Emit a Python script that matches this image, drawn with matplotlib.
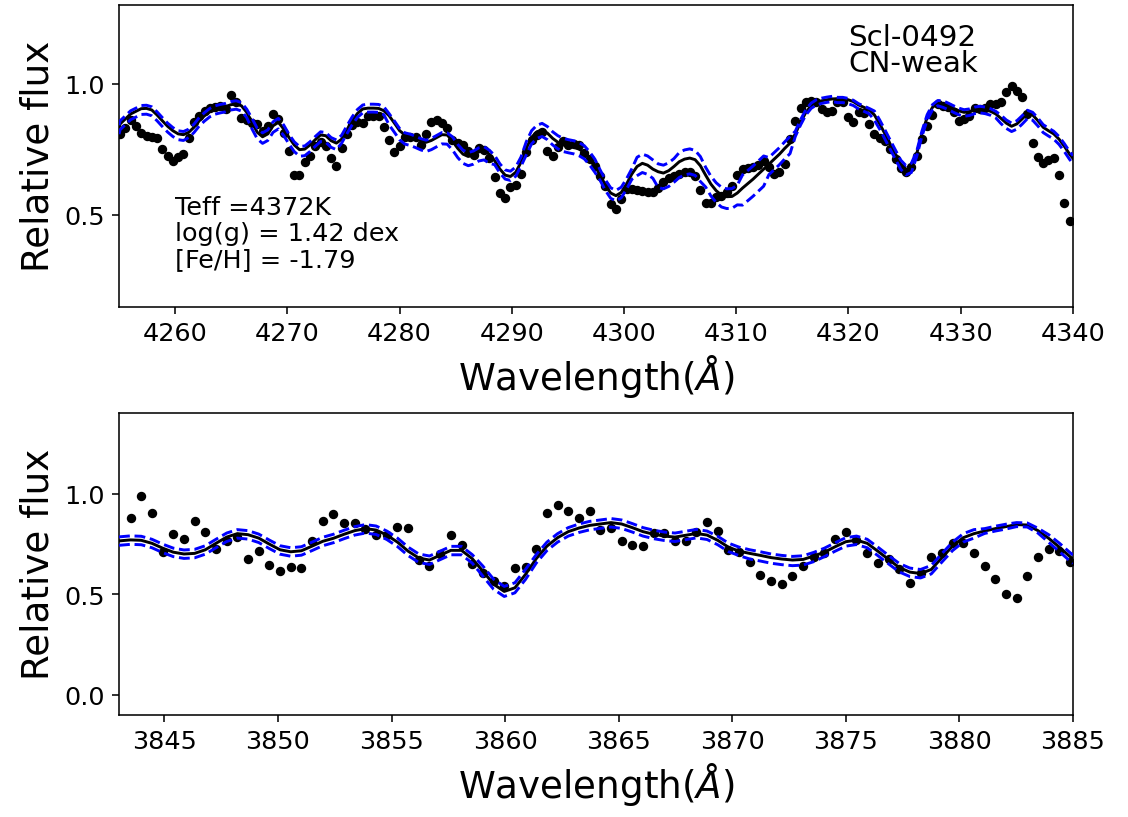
import matplotlib
matplotlib.use("Agg")
import matplotlib.pyplot as plt

# ---- top panel: 4255-4340 A ----
wave_top = [
    4255.10, 4255.57, 4256.04, 4256.51, 4256.98, 4257.45, 4257.92, 4258.39, 4258.86, 4259.33,
    4259.80, 4260.27, 4260.74, 4261.21, 4261.68, 4262.15, 4262.62, 4263.09, 4263.56, 4264.03,
    4264.50, 4264.97, 4265.44, 4265.91, 4266.38, 4266.85, 4267.32, 4267.79, 4268.26, 4268.73,
    4269.20, 4269.67, 4270.14, 4270.61, 4271.08, 4271.55, 4272.02, 4272.49, 4272.96, 4273.43,
    4273.90, 4274.37, 4274.84, 4275.31, 4275.78, 4276.25, 4276.72, 4277.19, 4277.66, 4278.13,
    4278.60, 4279.07, 4279.54, 4280.01, 4280.48, 4280.95, 4281.42, 4281.89, 4282.36, 4282.83,
    4283.30, 4283.77, 4284.24, 4284.71, 4285.18, 4285.65, 4286.12, 4286.59, 4287.06, 4287.53,
    4288.00, 4288.47, 4288.94, 4289.41, 4289.88, 4290.35, 4290.82, 4291.29, 4291.76, 4292.23,
    4292.70, 4293.17, 4293.64, 4294.11, 4294.58, 4295.05, 4295.52, 4295.99, 4296.46, 4296.93,
    4297.40, 4297.87, 4298.34, 4298.81, 4299.28, 4299.75, 4300.22, 4300.69, 4301.16, 4301.63,
    4302.10, 4302.57, 4303.04, 4303.51, 4303.98, 4304.45, 4304.92, 4305.39, 4305.86, 4306.33,
    4306.80, 4307.27, 4307.74, 4308.21, 4308.68, 4309.15, 4309.62, 4310.09, 4310.56, 4311.03,
    4311.50, 4311.97, 4312.44, 4312.91, 4313.38, 4313.85, 4314.32, 4314.79, 4315.26, 4315.73,
    4316.20, 4316.67, 4317.14, 4317.61, 4318.08, 4318.55, 4319.02, 4319.49, 4319.96, 4320.43,
    4320.90, 4321.37, 4321.84, 4322.31, 4322.78, 4323.25, 4323.72, 4324.19, 4324.66, 4325.13,
    4325.60, 4326.07, 4326.54, 4327.01, 4327.48, 4327.95, 4328.42, 4328.89, 4329.36, 4329.83,
    4330.30, 4330.77, 4331.24, 4331.71, 4332.18, 4332.65, 4333.12, 4333.59, 4334.06, 4334.53,
    4335.00, 4335.47, 4335.94, 4336.41, 4336.88, 4337.35, 4337.82, 4338.29, 4338.76, 4339.23,
    4339.70]

obs_top = [
    0.809, 0.830, 0.862, 0.840, 0.812, 0.802, 0.798, 0.794, 0.751, 0.726,
    0.705, 0.722, 0.734, 0.793, 0.855, 0.876, 0.895, 0.906, 0.910, 0.916,
    0.903, 0.957, 0.931, 0.869, 0.860, 0.850, 0.847, 0.821, 0.838, 0.885,
    0.866, 0.812, 0.744, 0.652, 0.652, 0.703, 0.724, 0.762, 0.779, 0.762,
    0.716, 0.688, 0.756, 0.809, 0.843, 0.855, 0.850, 0.878, 0.878, 0.878,
    0.834, 0.787, 0.741, 0.762, 0.796, 0.799, 0.799, 0.767, 0.809, 0.855,
    0.862, 0.849, 0.830, 0.786, 0.775, 0.767, 0.743, 0.730, 0.756, 0.749,
    0.716, 0.644, 0.584, 0.564, 0.606, 0.614, 0.656, 0.739, 0.786, 0.805,
    0.815, 0.745, 0.726, 0.758, 0.783, 0.767, 0.770, 0.767, 0.735, 0.713,
    0.688, 0.650, 0.612, 0.542, 0.523, 0.561, 0.599, 0.599, 0.597, 0.593,
    0.589, 0.589, 0.605, 0.627, 0.640, 0.648, 0.656, 0.663, 0.663, 0.650,
    0.597, 0.546, 0.546, 0.568, 0.574, 0.587, 0.612, 0.652, 0.675, 0.678,
    0.682, 0.691, 0.707, 0.682, 0.656, 0.663, 0.694, 0.789, 0.859, 0.906,
    0.929, 0.933, 0.929, 0.903, 0.891, 0.895, 0.931, 0.929, 0.874, 0.855,
    0.891, 0.890, 0.848, 0.809, 0.793, 0.783, 0.751, 0.713, 0.678, 0.665,
    0.682, 0.726, 0.789, 0.840, 0.880, 0.923, 0.916, 0.910, 0.893, 0.859,
    0.867, 0.878, 0.906, 0.903, 0.906, 0.923, 0.923, 0.931, 0.967, 0.992,
    0.973, 0.951, 0.885, 0.774, 0.720, 0.698, 0.711, 0.717, 0.652, 0.546,
    0.478]

# synthetic spectra: same grid plus the two axis ends
mwave_top = [4255.0] + wave_top + [4340.0]

model_top = [
    0.830,
    0.847, 0.866, 0.885, 0.895, 0.905, 0.906, 0.900, 0.881, 0.859, 0.838,
    0.821, 0.809, 0.806, 0.815, 0.834, 0.859, 0.878, 0.894, 0.904, 0.909,
    0.913, 0.920, 0.923, 0.916, 0.891, 0.853, 0.815, 0.798, 0.809, 0.840,
    0.853, 0.828, 0.796, 0.767, 0.749, 0.751, 0.767, 0.787, 0.805, 0.802,
    0.783, 0.774, 0.789, 0.825, 0.859, 0.887, 0.904, 0.907, 0.907, 0.906,
    0.897, 0.878, 0.850, 0.821, 0.805, 0.800, 0.792, 0.783, 0.777, 0.784,
    0.795, 0.806, 0.805, 0.783, 0.754, 0.732, 0.723, 0.729, 0.741, 0.745,
    0.732, 0.707, 0.675, 0.652, 0.647, 0.663, 0.701, 0.754, 0.796, 0.817,
    0.824, 0.812, 0.792, 0.777, 0.767, 0.762, 0.758, 0.751, 0.739, 0.716,
    0.688, 0.652, 0.614, 0.584, 0.574, 0.586, 0.618, 0.656, 0.685, 0.697,
    0.690, 0.675, 0.665, 0.660, 0.669, 0.685, 0.703, 0.713, 0.717, 0.711,
    0.688, 0.652, 0.618, 0.593, 0.576, 0.570, 0.571, 0.584, 0.603, 0.620,
    0.637, 0.656, 0.675, 0.694, 0.713, 0.732, 0.754, 0.774, 0.809, 0.853,
    0.891, 0.916, 0.929, 0.935, 0.939, 0.942, 0.943, 0.943, 0.939, 0.932,
    0.919, 0.910, 0.901, 0.881, 0.847, 0.809, 0.770, 0.732, 0.694, 0.673,
    0.682, 0.732, 0.809, 0.872, 0.910, 0.926, 0.925, 0.916, 0.906, 0.897,
    0.891, 0.894, 0.901, 0.904, 0.901, 0.895, 0.885, 0.868, 0.850, 0.838,
    0.847, 0.866, 0.887, 0.881, 0.859, 0.834, 0.821, 0.809, 0.789, 0.762,
    0.732,
    0.716]

upper_top = [
    0.842,
    0.859, 0.878, 0.897, 0.907, 0.917, 0.918, 0.912, 0.893, 0.871, 0.850,
    0.833, 0.821, 0.818, 0.827, 0.846, 0.871, 0.890, 0.906, 0.916, 0.921,
    0.925, 0.932, 0.935, 0.928, 0.903, 0.868, 0.830, 0.813, 0.824, 0.855,
    0.868, 0.843, 0.808, 0.779, 0.761, 0.763, 0.779, 0.799, 0.817, 0.814,
    0.795, 0.786, 0.804, 0.840, 0.874, 0.902, 0.919, 0.922, 0.922, 0.921,
    0.912, 0.886, 0.858, 0.829, 0.813, 0.808, 0.800, 0.791, 0.785, 0.792,
    0.803, 0.814, 0.813, 0.798, 0.769, 0.747, 0.738, 0.744, 0.756, 0.760,
    0.747, 0.727, 0.695, 0.672, 0.667, 0.683, 0.721, 0.779, 0.821, 0.842,
    0.849, 0.837, 0.817, 0.802, 0.792, 0.787, 0.783, 0.776, 0.764, 0.741,
    0.713, 0.672, 0.634, 0.604, 0.594, 0.606, 0.638, 0.676, 0.720, 0.732,
    0.725, 0.710, 0.695, 0.690, 0.699, 0.715, 0.738, 0.748, 0.752, 0.746,
    0.723, 0.682, 0.648, 0.623, 0.606, 0.600, 0.601, 0.614, 0.653, 0.670,
    0.687, 0.706, 0.725, 0.719, 0.738, 0.757, 0.779, 0.799, 0.819, 0.863,
    0.901, 0.926, 0.939, 0.945, 0.949, 0.952, 0.948, 0.948, 0.944, 0.937,
    0.924, 0.915, 0.906, 0.896, 0.862, 0.824, 0.785, 0.747, 0.709, 0.688,
    0.697, 0.742, 0.819, 0.882, 0.920, 0.936, 0.935, 0.926, 0.916, 0.907,
    0.901, 0.904, 0.911, 0.914, 0.911, 0.905, 0.895, 0.880, 0.862, 0.850,
    0.859, 0.878, 0.899, 0.891, 0.869, 0.844, 0.831, 0.819, 0.799, 0.772,
    0.742,
    0.726]

lower_top = [
    0.808,
    0.825, 0.844, 0.863, 0.873, 0.883, 0.884, 0.878, 0.859, 0.837, 0.816,
    0.799, 0.787, 0.784, 0.795, 0.814, 0.839, 0.858, 0.874, 0.884, 0.889,
    0.893, 0.900, 0.903, 0.896, 0.871, 0.828, 0.790, 0.773, 0.784, 0.815,
    0.828, 0.803, 0.771, 0.742, 0.724, 0.726, 0.742, 0.762, 0.780, 0.777,
    0.758, 0.749, 0.774, 0.810, 0.844, 0.872, 0.889, 0.892, 0.892, 0.891,
    0.882, 0.843, 0.815, 0.786, 0.770, 0.765, 0.757, 0.748, 0.742, 0.749,
    0.760, 0.771, 0.770, 0.748, 0.719, 0.697, 0.688, 0.694, 0.706, 0.710,
    0.697, 0.692, 0.660, 0.637, 0.632, 0.648, 0.686, 0.729, 0.771, 0.792,
    0.799, 0.787, 0.767, 0.752, 0.742, 0.737, 0.733, 0.726, 0.714, 0.691,
    0.663, 0.632, 0.594, 0.564, 0.554, 0.566, 0.598, 0.636, 0.650, 0.662,
    0.655, 0.640, 0.605, 0.600, 0.609, 0.625, 0.643, 0.653, 0.657, 0.651,
    0.628, 0.607, 0.573, 0.548, 0.531, 0.525, 0.526, 0.539, 0.538, 0.555,
    0.572, 0.591, 0.610, 0.654, 0.673, 0.692, 0.714, 0.734, 0.799, 0.843,
    0.881, 0.906, 0.919, 0.925, 0.929, 0.932, 0.928, 0.928, 0.924, 0.917,
    0.904, 0.895, 0.886, 0.861, 0.827, 0.789, 0.750, 0.712, 0.674, 0.653,
    0.662, 0.722, 0.799, 0.862, 0.900, 0.916, 0.910, 0.901, 0.891, 0.882,
    0.876, 0.879, 0.886, 0.889, 0.886, 0.880, 0.870, 0.848, 0.830, 0.818,
    0.827, 0.846, 0.867, 0.861, 0.839, 0.814, 0.801, 0.789, 0.769, 0.742,
    0.712,
    0.696]

# ---- bottom panel: 3843-3885 A ----
wave_bot = [
    3843.51, 3843.98, 3844.45, 3844.92, 3845.39, 3845.86, 3846.33, 3846.80, 3847.27, 3847.74,
    3848.21, 3848.68, 3849.15, 3849.62, 3850.09, 3850.56, 3851.03, 3851.50, 3851.97, 3852.44,
    3852.91, 3853.38, 3853.85, 3854.32, 3854.79, 3855.26, 3855.73, 3856.20, 3856.67, 3857.14,
    3857.61, 3858.08, 3858.55, 3859.02, 3859.49, 3859.96, 3860.43, 3860.90, 3861.37, 3861.84,
    3862.31, 3862.78, 3863.25, 3863.72, 3864.19, 3864.66, 3865.13, 3865.60, 3866.07, 3866.54,
    3867.01, 3867.48, 3867.95, 3868.42, 3868.89, 3869.36, 3869.83, 3870.30, 3870.77, 3871.24,
    3871.71, 3872.18, 3872.65, 3873.12, 3873.59, 3874.06, 3874.53, 3875.00, 3875.47, 3875.94,
    3876.41, 3876.88, 3877.35, 3877.82, 3878.29, 3878.76, 3879.23, 3879.70, 3880.17, 3880.64,
    3881.11, 3881.58, 3882.05, 3882.52, 3882.99, 3883.46, 3883.93, 3884.40, 3884.87]

obs_bot = [
    0.877, 0.987, 0.902, 0.711, 0.798, 0.773, 0.864, 0.807, 0.724, 0.763,
    0.783, 0.673, 0.713, 0.645, 0.615, 0.635, 0.632, 0.763, 0.866, 0.900,
    0.854, 0.854, 0.826, 0.794, 0.794, 0.836, 0.827, 0.672, 0.640, 0.700,
    0.794, 0.746, 0.650, 0.607, 0.565, 0.540, 0.628, 0.635, 0.726, 0.903,
    0.945, 0.912, 0.881, 0.915, 0.821, 0.827, 0.763, 0.746, 0.741, 0.802,
    0.806, 0.766, 0.766, 0.811, 0.859, 0.814, 0.719, 0.710, 0.662, 0.597,
    0.565, 0.550, 0.589, 0.638, 0.685, 0.706, 0.773, 0.811, 0.769, 0.703,
    0.653, 0.673, 0.627, 0.557, 0.607, 0.687, 0.706, 0.754, 0.753, 0.703,
    0.642, 0.575, 0.499, 0.481, 0.592, 0.687, 0.724, 0.714, 0.662]

mwave_bot = [3843.0] + wave_bot + [3885.0]

model_bot = [
    0.765,
    0.770, 0.768, 0.753, 0.729, 0.709, 0.700, 0.703, 0.721, 0.753, 0.784,
    0.801, 0.796, 0.779, 0.749, 0.721, 0.711, 0.716, 0.739, 0.763, 0.778,
    0.798, 0.816, 0.826, 0.819, 0.794, 0.759, 0.714, 0.680, 0.670, 0.694,
    0.718, 0.718, 0.677, 0.615, 0.550, 0.514, 0.532, 0.599, 0.677, 0.739,
    0.781, 0.811, 0.829, 0.842, 0.849, 0.856, 0.849, 0.831, 0.811, 0.798,
    0.789, 0.784, 0.793, 0.802, 0.794, 0.768, 0.734, 0.714, 0.703, 0.693,
    0.682, 0.675, 0.670, 0.673, 0.690, 0.709, 0.736, 0.761, 0.769, 0.753,
    0.714, 0.673, 0.633, 0.610, 0.603, 0.623, 0.682, 0.739, 0.781, 0.801,
    0.814, 0.826, 0.836, 0.846, 0.844, 0.816, 0.778, 0.734, 0.687,
    0.675]

upper_bot = [
    0.785,
    0.790, 0.788, 0.773, 0.749, 0.729, 0.720, 0.723, 0.741, 0.773, 0.804,
    0.821, 0.816, 0.799, 0.769, 0.741, 0.731, 0.736, 0.759, 0.783, 0.798,
    0.818, 0.836, 0.846, 0.839, 0.814, 0.779, 0.734, 0.700, 0.690, 0.714,
    0.738, 0.738, 0.697, 0.640, 0.575, 0.539, 0.557, 0.624, 0.697, 0.759,
    0.801, 0.831, 0.849, 0.862, 0.869, 0.876, 0.869, 0.851, 0.831, 0.818,
    0.809, 0.804, 0.813, 0.822, 0.814, 0.788, 0.754, 0.734, 0.721, 0.711,
    0.700, 0.693, 0.688, 0.691, 0.708, 0.729, 0.756, 0.781, 0.789, 0.773,
    0.734, 0.693, 0.653, 0.630, 0.623, 0.643, 0.702, 0.759, 0.801, 0.821,
    0.826, 0.838, 0.848, 0.856, 0.854, 0.828, 0.796, 0.754, 0.707,
    0.695]

lower_bot = [
    0.743,
    0.748, 0.746, 0.731, 0.707, 0.687, 0.678, 0.681, 0.699, 0.731, 0.762,
    0.779, 0.774, 0.757, 0.727, 0.699, 0.689, 0.694, 0.717, 0.741, 0.756,
    0.776, 0.794, 0.804, 0.797, 0.772, 0.737, 0.692, 0.658, 0.648, 0.672,
    0.696, 0.696, 0.655, 0.590, 0.525, 0.489, 0.507, 0.574, 0.655, 0.717,
    0.759, 0.789, 0.807, 0.820, 0.827, 0.834, 0.827, 0.809, 0.789, 0.776,
    0.767, 0.762, 0.771, 0.780, 0.772, 0.746, 0.712, 0.692, 0.675, 0.665,
    0.654, 0.647, 0.642, 0.645, 0.662, 0.687, 0.714, 0.739, 0.747, 0.731,
    0.692, 0.651, 0.611, 0.588, 0.581, 0.601, 0.660, 0.717, 0.759, 0.779,
    0.802, 0.814, 0.824, 0.836, 0.834, 0.804, 0.758, 0.712, 0.665,
    0.653]

star_info = "Teff =4372K\nlog(g) = 1.42 dex\n[Fe/H] = -1.79"
star_name = "Scl-0492\nCN-weak"

fig = plt.figure(figsize=(8, 5.8), dpi=141)
ax1 = fig.add_axes([0.1055, 0.6235, 0.8457, 0.3696])
ax2 = fig.add_axes([0.1055, 0.1247, 0.8457, 0.3692])

for ax, w, f, mw, m, hi, lo in [(ax1, wave_top, obs_top, mwave_top, model_top, upper_top, lower_top),
                                (ax2, wave_bot, obs_bot, mwave_bot, model_bot, upper_bot, lower_bot)]:
    ax.plot(w, f, 'ko', markersize=3.8, zorder=1)
    ax.plot(mw, m, 'k-', linewidth=1.5, zorder=2)
    ax.plot(mw, hi, 'b--', linewidth=1.5, zorder=3)
    ax.plot(mw, lo, 'b--', linewidth=1.5, zorder=3)
    ax.set_ylabel('Relative flux', fontsize=19)
    ax.set_xlabel(r'Wavelength($\AA$)', fontsize=19)
    ax.tick_params(labelsize=13)

ax1.set_xlim(4255, 4340)
ax1.set_ylim(0.15, 1.3)
ax1.set_xticks([4260, 4270, 4280, 4290, 4300, 4310, 4320, 4330, 4340])
ax1.set_yticks([0.5, 1.0])
ax1.text(4260, 0.286, star_info, fontsize=13, va='bottom', linespacing=1.1)
ax1.text(4320, 1.023, star_name, fontsize=15, va='bottom', linespacing=0.95)

ax2.set_xlim(3843, 3885)
ax2.set_ylim(-0.1, 1.4)
ax2.set_xticks([3845, 3850, 3855, 3860, 3865, 3870, 3875, 3880, 3885])
ax2.set_yticks([0.0, 0.5, 1.0])

fig.savefig('out.png', dpi=141)
